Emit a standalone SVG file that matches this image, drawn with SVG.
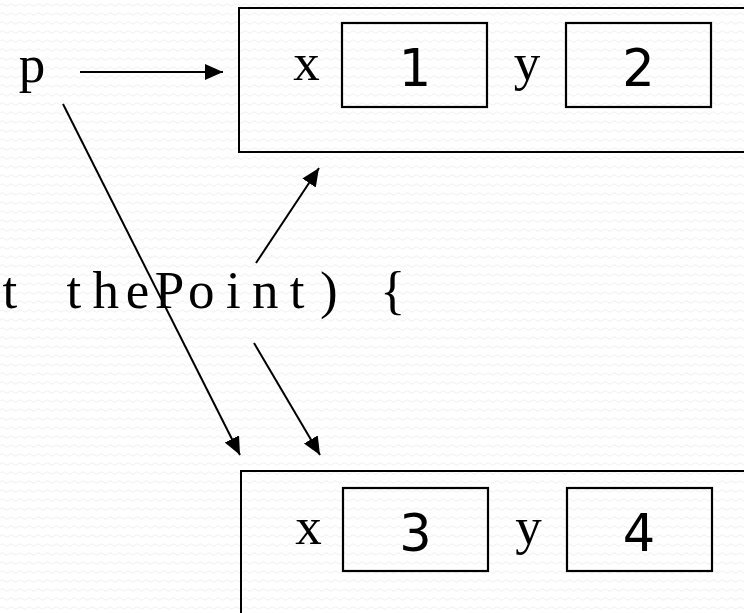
<svg xmlns="http://www.w3.org/2000/svg" width="744" height="613" viewBox="0 0 744 613">
<defs>
<pattern id="bg" width="9" height="9" patternUnits="userSpaceOnUse">
<rect width="9" height="9" fill="#ffffff"/>
<path d="M0 5 Q2.25 2.5 4.5 5 T9 5" fill="none" stroke="#f1f1f1" stroke-width="1"/>
</pattern>
<marker id="ah" markerUnits="userSpaceOnUse" markerWidth="20" markerHeight="18" refX="18" refY="8" orient="auto">
<path d="M0 0 L18 8 L0 16 Z" fill="#000"/>
</marker>
<style>
.box{fill:none;stroke:#000;stroke-width:2}
.cell{fill:none;stroke:#000;stroke-width:2.2}
.mono{font-family:"Liberation Serif","Times New Roman",serif;font-size:53px;fill:#000}
.mid{text-anchor:middle}
.num{font-family:"DejaVu Sans",Verdana,sans-serif;font-size:51px;fill:#000;text-anchor:middle}
.conn{stroke:#000;stroke-width:2;fill:none;marker-end:url(#ah)}
</style>
</defs>
<rect width="744" height="613" fill="url(#bg)"/>
<text class="mono" xml:space="preserve" y="308"><tspan x="2.6">t</tspan><tspan x="35"> </tspan><tspan x="66.4">t</tspan><tspan x="92.4">h</tspan><tspan x="125.8">e</tspan><tspan x="154.7">P</tspan><tspan x="188.1">o</tspan><tspan x="225.9">i</tspan><tspan x="251.9">n</tspan><tspan x="289.7">t</tspan><tspan x="320.1">)</tspan><tspan x="350"> </tspan><tspan x="380.1">{</tspan></text>
<g id="var-p">
<text class="mono mid" x="32" y="82">p</text>
</g>
<g id="point1">
<rect class="box" x="239" y="8" width="530" height="144"/>
<text class="mono mid" x="306.5" y="80">x</text>
<rect class="cell" x="342" y="23" width="145" height="84"/>
<text class="num" x="415" y="86">1</text>
<text class="mono mid" x="527" y="80">y</text>
<rect class="cell" x="566" y="23" width="145" height="84"/>
<text class="num" x="638.5" y="86">2</text>
</g>
<g id="point2">
<rect class="box" x="241" y="471" width="530" height="160"/>
<text class="mono mid" x="308.5" y="544">x</text>
<rect class="cell" x="343" y="488" width="145" height="83"/>
<text class="num" x="415.5" y="551">3</text>
<text class="mono mid" x="528.5" y="544">y</text>
<rect class="cell" x="567" y="488" width="145" height="83"/>
<text class="num" x="639" y="551">4</text>
</g>
<g id="connectors">
<line class="conn" x1="80" y1="72" x2="223" y2="72"/>
<line class="conn" x1="256" y1="263" x2="319" y2="168"/>
<line class="conn" x1="63" y1="104" x2="240" y2="455"/>
<line class="conn" x1="254" y1="343" x2="320" y2="455"/>
</g>
</svg>
